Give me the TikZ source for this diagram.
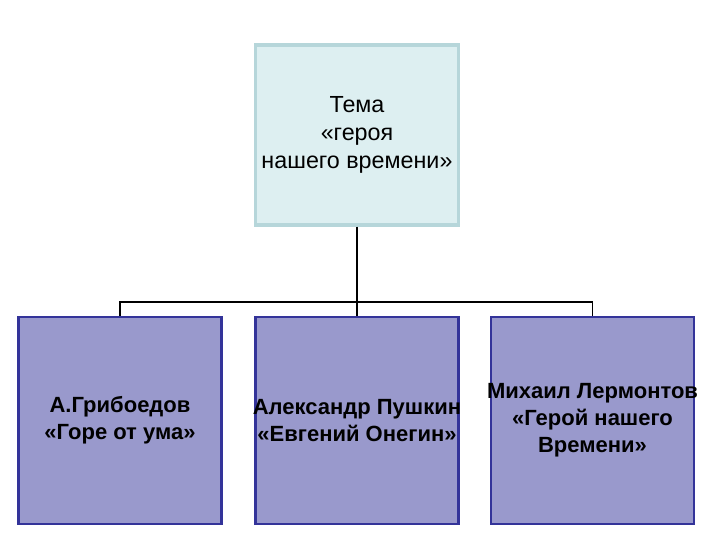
\documentclass[tikz,border=0pt]{standalone}
\usepackage{fontspec}
\setmainfont{Liberation Sans}
\usetikzlibrary{positioning}
\definecolor{topfill}{HTML}{DDEFF1}
\definecolor{topline}{HTML}{B6D6DA}
\definecolor{boxfill}{HTML}{9999CC}
\definecolor{boxline}{HTML}{333399}
\tikzset{
  theme/.style={draw=topline,fill=topfill,line width=3.5pt,minimum width=203pt,minimum height=180pt,align=center,font=\fontsize{23.3}{28}\selectfont},
  work/.style={draw=boxline,fill=boxfill,line width=2.5pt,minimum width=203pt,minimum height=207pt,align=center,font=\fontsize{22}{27}\selectfont\bfseries},
  label/.style={align=center,inner sep=0pt,font=\fontsize{22}{27}\selectfont\bfseries},
  link/.style={draw=black,line width=1.2pt}
}
\begin{document}
\begin{tikzpicture}[x=1pt,y=-1pt]
  \useasboundingbox (0,0) rectangle (720,540);
  \node[theme] (tema) at (357,135) {Тема\\«героя\\нашего времени»};
  \node[work] (gri) at (120,420.5) {};
  \node[work] (pus) at (357,420.5) {};
  \node[work] (ler) at (592.5,420.5) {};
  \node[label] (gritxt) at (gri) {А.Грибоедов\\«Горе от ума»};
  \node[label] (pustxt) at (pus) {Александр Пушкин\\«Евгений Онегин»};
  \node[label] (lertxt) at (ler) {Михаил Лермонтов\\«Герой нашего\\Времени»};
  \coordinate (hub) at (357,302);
  \draw[link,line width=2.5pt] (tema.south) -- (hub);
  \draw[link] (gri.north) |- (hub);
  \draw[link] (ler.north) |- (hub);
  \draw[link] (hub) -- (pus.north);
\end{tikzpicture}
\end{document}
